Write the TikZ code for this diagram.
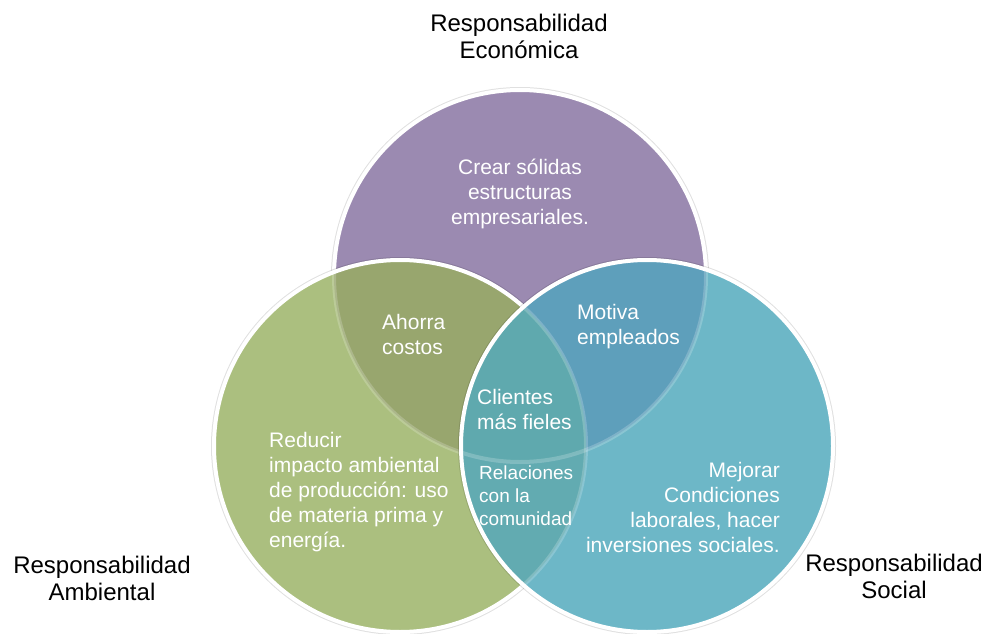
\documentclass[tikz,border=0pt]{standalone}
\usepackage{fontspec}
\setmainfont{Liberation Sans}
\definecolor{econ}{HTML}{9B8AB1}
\definecolor{amb}{HTML}{ABBF7F}
\definecolor{soc}{HTML}{6DB7C7}
\definecolor{econamb}{HTML}{98A66E}
\definecolor{econsoc}{HTML}{5E9FBB}
\definecolor{ambsoc}{HTML}{62ABB1}
\definecolor{allthree}{HTML}{5FA9AE}

\begin{document}
\begin{tikzpicture}[x=1pt, y=-1pt,
    ring/.style = {draw=white, line width=4pt},
    faint/.style = {draw=white, draw opacity=.2, line width=4pt},
    shade/.style = {fill=black, fill opacity=.12},
    txt/.style = {white, inner sep=0pt, font=\fontsize{21}{25}\selectfont},
    title/.style = {black, inner sep=0pt, align=center, anchor=north,
                    font=\fontsize{24}{27}\selectfont}]
\useasboundingbox (0,0) rectangle (988,634);
\coordinate (ce) at (520,276);
\coordinate (ca) at (400,446);
\coordinate (cs) at (647,446);

% economica
\fill[shade] (ce) circle (189pt);
\fill[econ] (ce) circle (186pt);
\draw[ring] (ce) circle (186pt);

% ambiental
\fill[shade] (ca) circle (189pt);
\fill[amb] (ca) circle (186pt);
\begin{scope}
    \clip (ca) circle (186pt);
    \fill[econamb] (ce) circle (186pt);
    \draw[faint] (ce) circle (186pt);
\end{scope}
\draw[ring] (ca) circle (186pt);

% social
\fill[shade] (cs) circle (189pt);
\fill[soc] (cs) circle (186pt);
\begin{scope}
    \clip (cs) circle (186pt);
    \fill[econsoc] (ce) circle (186pt);
    \fill[ambsoc] (ca) circle (186pt);
    \begin{scope}
        \clip (ce) circle (186pt);
        \fill[allthree] (ca) circle (186pt);
    \end{scope}
    \draw[faint] (ce) circle (186pt);
    \draw[faint] (ca) circle (186pt);
\end{scope}
\draw[ring] (cs) circle (186pt);

\node[txt, align=center, anchor=north] (solidas) at (520,159) {Crear sólidas\\estructuras\\empresariales.};
\node[txt, align=left, anchor=north west] (ahorro) at (382,314) {Ahorra\\costos};
\node[txt, align=left, anchor=north west] (motiva) at (577,304) {Motiva\\empleados};
\node[txt, align=left, anchor=north west] (fieles) at (477,389) {Clientes\\más fieles};
\node[txt, align=left, anchor=north west, font=\fontsize{19}{23}\selectfont] (comunidad) at (479,466) {Relaciones\\con la\\comunidad};
\node[txt, align=left, anchor=north west] (impacto) at (269,432) {Reducir\\impacto ambiental\\de producción: uso\\de materia prima y\\energía.};
\node[txt, align=right, anchor=north east] (mejorar) at (780,462) {Mejorar\\Condiciones\\laborales, hacer\\inversiones sociales.};

\node[title] (economica) at (519,14) {Responsabilidad\\Económica};
\node[title] (ambiental) at (102,556) {Responsabilidad\\Ambiental};
\node[title] (social) at (894,554) {Responsabilidad\\Social};
\end{tikzpicture}
\end{document}
